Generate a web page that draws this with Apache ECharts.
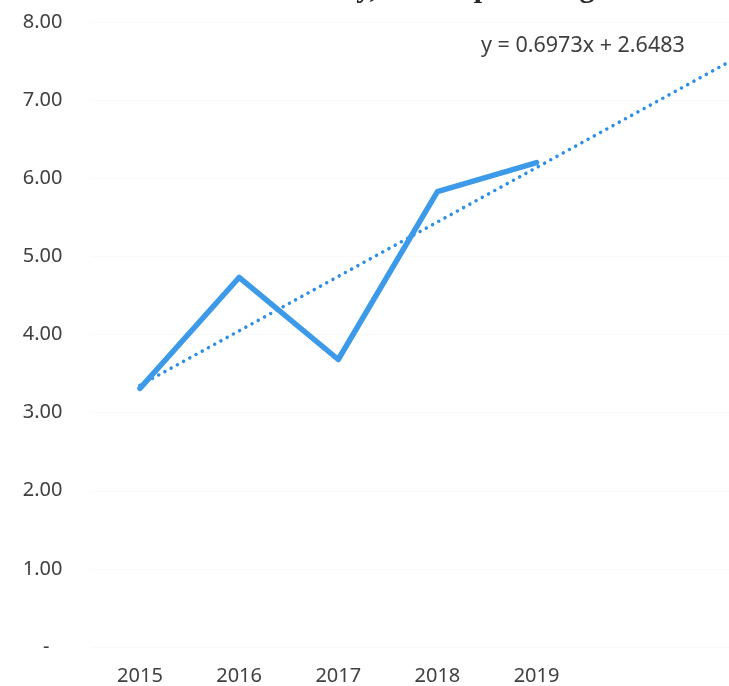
<!DOCTYPE html>
<html>
<head>
<meta charset="utf-8">
<script src="https://cdn.jsdelivr.net/npm/echarts@6/dist/echarts.min.js"></script>
<style>html,body{margin:0;padding:0;background:#fff;overflow:hidden;width:729px;height:686px;}#c{width:800px;height:686px;}</style>
</head>
<body>
<div id="c"></div>
<script>
var categories = ['2015', '2016', '2017', '2018', '2019', '', ''];
var values = [3.31, 4.73, 3.68, 5.83, 6.20];
var trendPoints = [[0, 3.35], [6, 7.53]];
var equationLabel = 'y = 0.6973x + 2.6483';
var titleText = 'Electricity, Per Capita Usage';
var yTicks = { min: 0, max: 8, interval: 1 };

var chart = echarts.init(document.getElementById('c'), null, { renderer: 'canvas' });
chart.setOption({
  animation: false,
  backgroundColor: '#ffffff',
  title: {
    text: titleText,
    left: 233,
    top: -31,
    textStyle: { fontFamily: 'Liberation Serif', fontWeight: 'bold', fontSize: 30, color: '#262626' }
  },
  graphic: [{
    type: 'text',
    left: 481,
    top: 35,
    style: { text: equationLabel, fontFamily: 'Noto Sans', fontSize: 21.5, fill: '#404040' }
  }],
  grid: { left: 90.4, top: 22, width: 694, bottom: 39, containLabel: false },
  xAxis: {
    type: 'category',
    data: categories,
    boundaryGap: true,
    axisLine: { show: false },
    axisTick: { show: false },
    axisLabel: { margin: 19, fontFamily: 'Noto Sans', fontSize: 20, color: '#404040' }
  },
  yAxis: {
    type: 'value',
    min: yTicks.min,
    max: yTicks.max,
    interval: yTicks.interval,
    axisLine: { show: false },
    axisTick: { show: false },
    splitLine: { lineStyle: { color: '#f9f9f9', width: 1 } },
    axisLabel: {
      margin: 28,
      fontFamily: 'Noto Sans',
      fontSize: 20,
      color: '#404040',
      formatter: function (v) { return v === 0 ? '{d|-}' : v.toFixed(2); },
      rich: { d: { fontFamily: 'Noto Sans', fontSize: 20, color: '#404040', padding: [0, 13, 0, 0] } }
    }
  },
  series: [
    {
      type: 'line',
      data: trendPoints,
      symbol: 'none',
      lineStyle: { color: '#2f8fe6', width: 3.5, type: [0.1, 7], cap: 'round' },
      z: 2
    },
    {
      type: 'line',
      data: values,
      symbol: 'none',
      lineStyle: { color: '#3d9ae8', width: 5.5, cap: 'round', join: 'round' },
      z: 3
    }
  ]
});
</script>
</body>
</html>
